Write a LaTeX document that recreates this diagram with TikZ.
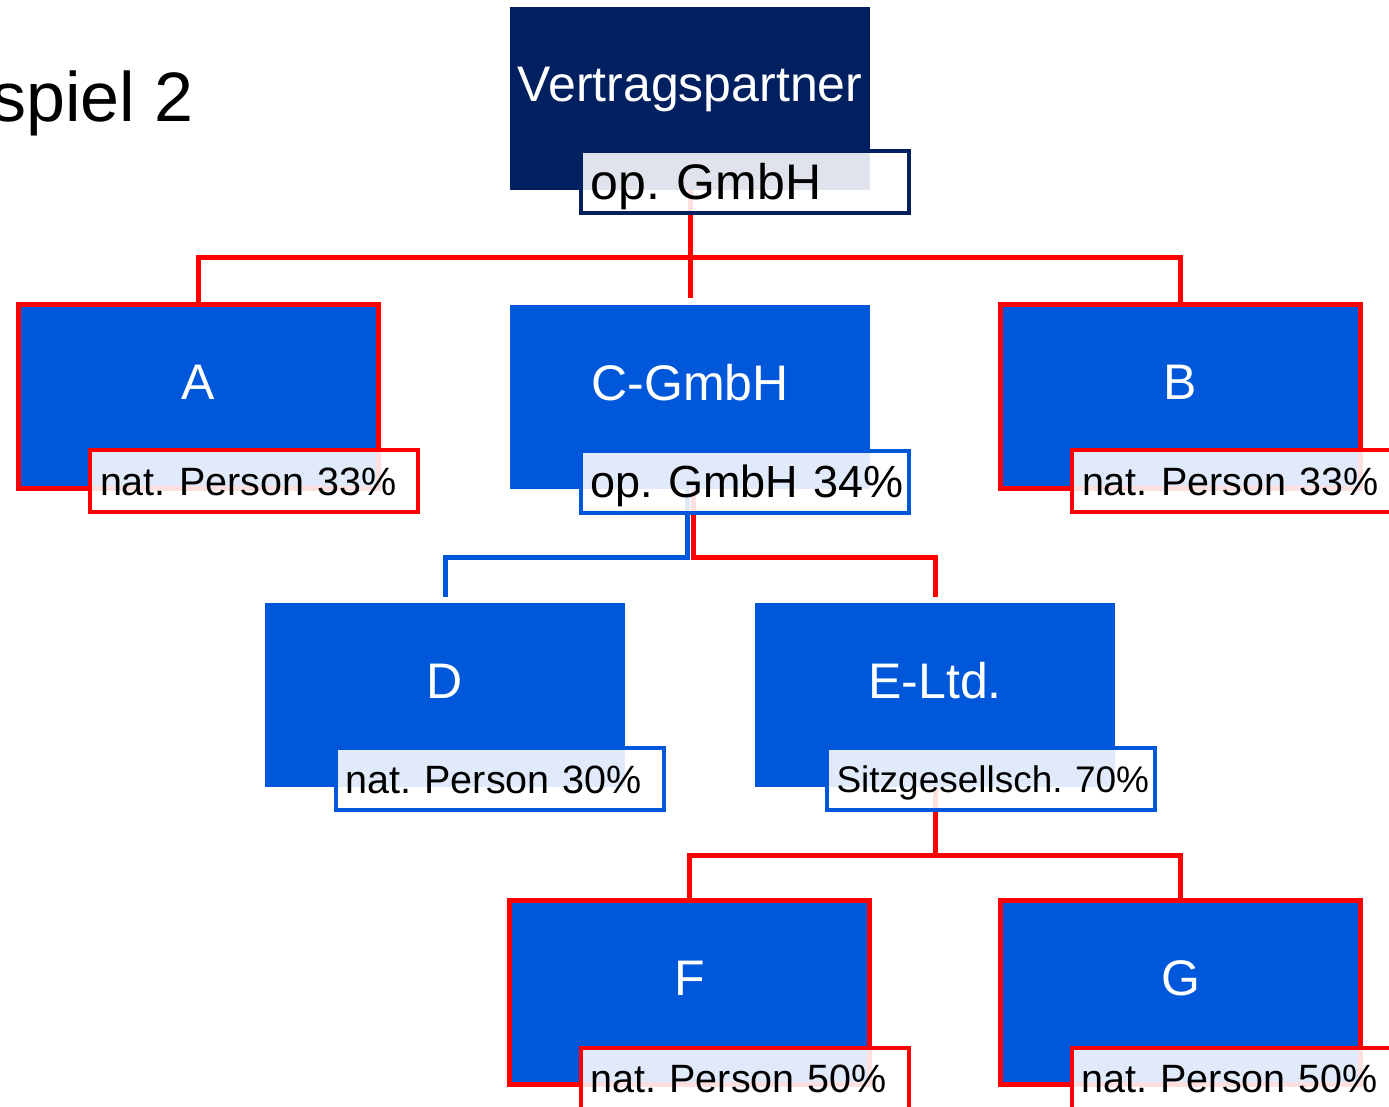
\documentclass[tikz,border=0pt]{standalone}
\usepackage{fontspec}
\setmainfont{Liberation Sans}
\usetikzlibrary{backgrounds}
\definecolor{navy}{RGB}{0,32,96}
\definecolor{cblue}{RGB}{0,87,217}
\definecolor{cred}{RGB}{255,0,0}
\tikzset{
  box/.style={fill=cblue, minimum width=360pt, minimum height=184pt, inner sep=0pt, outer sep=0pt,
    text=white, font=\fontsize{50}{60}\selectfont, text height=36pt, text depth=30pt},
  navybox/.style={box, fill=navy, minimum height=183pt},
  redbox/.style={box, draw=cred, line width=5pt},
  lab/.style={fill=white, fill opacity=0.88, text opacity=1, minimum height=62pt, text width=308pt,
    inner xsep=10pt, inner ysep=0pt, align=left, line width=4pt, outer sep=0pt,
    font=\fontsize{39.5}{48}\selectfont, text height=28.5pt, text depth=0pt},
  redlab/.style={lab, draw=cred},
  bluelab/.style={lab, draw=cblue},
  navylab/.style={lab, draw=navy},
  redline/.style={draw=cred, line width=5pt},
  blueline/.style={draw=cblue, line width=5pt}
}
\begin{document}
\begin{tikzpicture}[x=1pt,y=-1pt]
\clip (0,0) rectangle (1389,1107);
% title
\node[anchor=base east, inner sep=0pt, font=\fontsize{70}{84}\selectfont] (title) at (194,122) {spiel 2};
% top
\node[navybox] (VP) at (690,98.5) {Vertragspartner};
\node[navylab, font=\fontsize{50}{60}\selectfont, text height=36pt] (VPl) at ([shift={(54.5,83.5)}]VP.center) {\mbox{op.\ GmbH}};
% level 1
\node[redbox] (A) at (198.5,396.5) {A};
\node[redlab] (Al) at ([shift={(55.5,84.5)}]A.center) {\mbox{nat.\ Person 33\%}};
\node[box] (C) at (690,397) {C-GmbH};
\node[bluelab, font=\fontsize{45}{54}\selectfont, text height=32pt] (Cl) at ([shift={(54.5,84.5)}]C.center) {\mbox{op.\ GmbH 34\%}};
\node[redbox] (B) at (1180.5,396.5) {B};
\node[redlab] (Bl) at ([shift={(55.5,84.5)}]B.center) {\mbox{nat.\ Person 33\%}};
% level 2
\node[box] (D) at (445,695) {D};
\node[bluelab] (Dl) at ([shift={(54.5,84)}]D.center) {\mbox{nat.\ Person 30\%}};
\node[box] (E) at (935,695) {E-Ltd.};
\node[bluelab, font=\fontsize{37}{44}\selectfont, text height=27pt] (El) at ([shift={(55.5,84)}]E.center) {\mbox{Sitzgesellsch.\ 70\%}};
% level 3
\node[redbox] (F) at (689.5,992.5) {F};
\node[redlab] (Fl) at ([shift={(55,86)}]F.center) {\mbox{nat.\ Person 50\%}};
\node[redbox] (G) at (1180.5,992.5) {G};
\node[redlab] (Gl) at ([shift={(55,86)}]G.center) {\mbox{nat.\ Person 50\%}};
% connectors
\coordinate (j1) at (690,258);
\coordinate (j2) at (690,557);
\coordinate (j3) at (935,855);
\begin{scope}[on background layer]
\fill[white] (0,0) rectangle (1389,1107);
\draw[redline] (VP.south) -- ([yshift=7pt]C.north);
\draw[redline] (A.north) |- (j1) -| (B.north);
\draw[blueline] ([xshift=-3pt]C.south) -- ([xshift=-3pt]j2) -| ([yshift=6pt]D.north);
\draw[redline] ([xshift=3pt]C.south) -- ([xshift=3pt]j2) -| ([yshift=6pt]E.north);
\draw[redline] (E.south) -- (j3);
\draw[redline] (F.north) |- (j3) -| (G.north);
\end{scope}
\end{tikzpicture}
\end{document}
